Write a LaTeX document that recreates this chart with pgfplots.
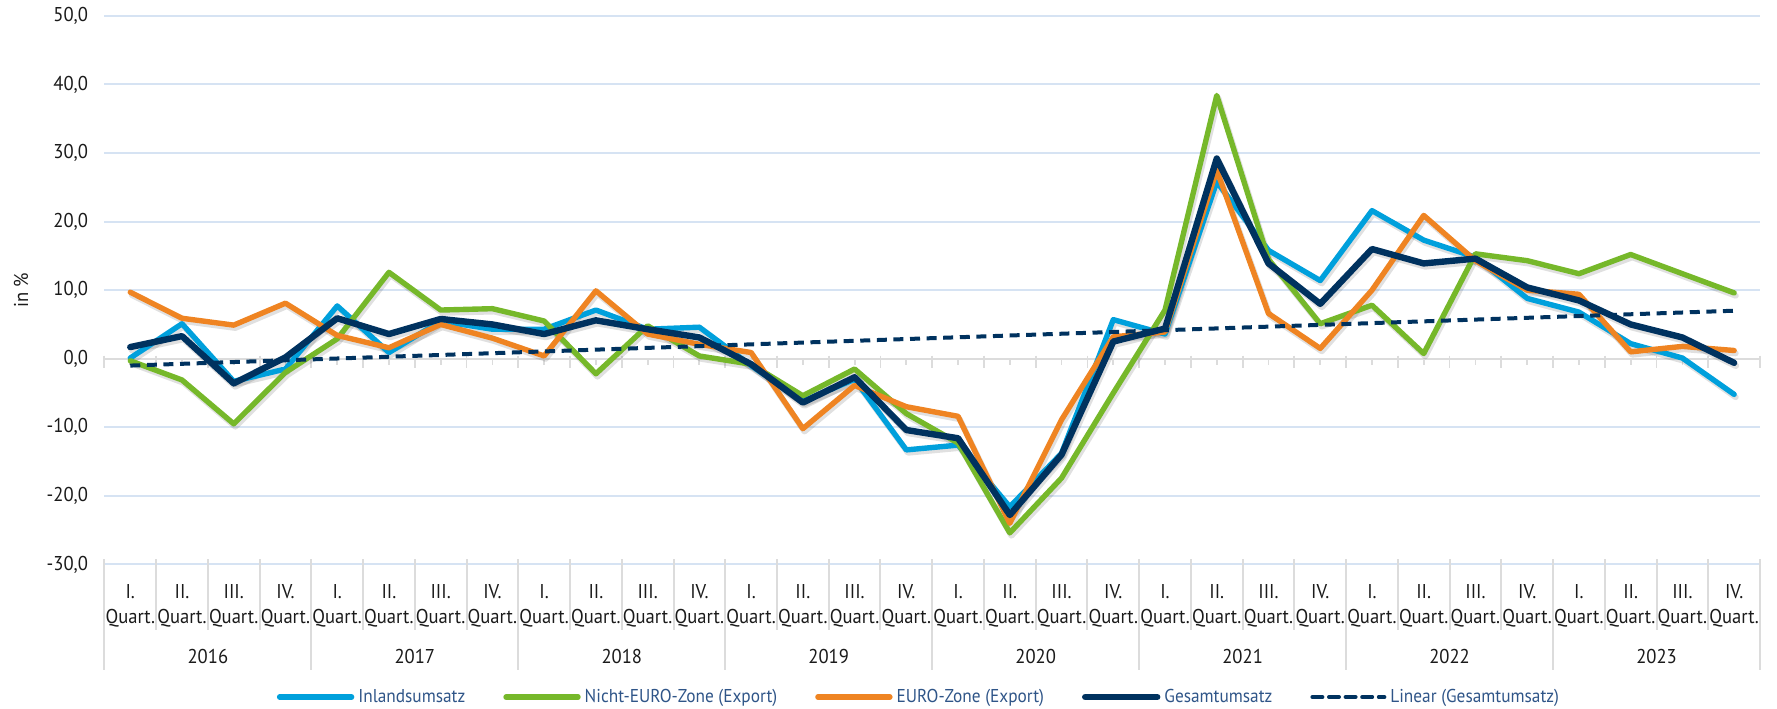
\documentclass[border=0pt]{standalone}
\usepackage{fontspec}
\setmainfont{PT Sans}[FakeStretch=0.93]
\usepackage{pgfplots}
\usepackage{pgfplotstable}
\pgfplotsset{compat=1.18}
\definecolor{inlc}{HTML}{00A0DC}
\definecolor{nichtc}{HTML}{76B82A}
\definecolor{euroc}{HTML}{EF8422}
\definecolor{gesc}{HTML}{00325F}
\definecolor{gridc}{HTML}{D6E3F3}
\definecolor{sepc}{HTML}{DCDCDC}
\definecolor{legc}{HTML}{2F5588}
\definecolor{txtc}{HTML}{1A1A1A}

\pgfplotstableread{
x inl nicht euro ges
0 0.1 -0.3 9.7 1.7
1 5.1 -3.1 5.9 3.3
2 -3.3 -9.5 4.9 -3.6
3 -1.5 -2.0 8.1 0.2
4 7.7 2.9 3.4 5.9
5 0.9 12.6 1.6 3.6
6 5.5 7.1 5.0 5.8
7 4.3 7.3 3.0 5.0
8 4.3 5.5 0.4 3.6
9 7.1 -2.2 9.9 5.6
10 4.3 4.8 3.6 4.3
11 4.6 0.4 2.1 3.1
12 -1.0 -0.8 0.9 -0.8
13 -6.2 -5.4 -10.2 -6.4
14 -3.0 -1.5 -3.9 -2.7
15 -13.3 -8.0 -7.0 -10.4
16 -12.6 -12.3 -8.4 -11.6
17 -21.6 -25.4 -24.0 -22.8
18 -13.8 -17.4 -8.9 -14.0
19 5.7 -5.0 3.2 2.5
20 3.6 7.1 3.9 4.4
21 25.8 38.4 27.5 29.2
22 15.8 14.5 6.6 13.9
23 11.4 5.1 1.5 8.0
24 21.6 7.8 10.0 16.0
25 17.3 0.75 20.9 13.9
26 14.8 15.3 14.3 14.6
27 8.8 14.3 10.0 10.4
28 6.8 12.4 9.4 8.5
29 2.2 15.2 1.0 5.0
30 0.1 12.4 1.8 3.1
31 -5.2 9.6 1.2 -0.6
}\datatable

\begin{document}
\begin{tikzpicture}
\useasboundingbox (-52.2pt,-71.8pt) rectangle (836.3pt,282.2pt);
\begin{axis}[
  at={(0pt,0pt)}, anchor=south west,
  scale only axis, width=827.8pt, height=274.25pt,
  xmin=-0.5, xmax=31.5, ymin=-30, ymax=50,
  clip=false,
  axis line style={draw=none},
  tick style={draw=none},
  ytick={-30,-20,...,50},
  yticklabels={{-30,0},{-20,0},{-10,0},{0,0},{10,0},{20,0},{30,0},{40,0},{50,0}},
  yticklabel style={anchor=east, inner sep=0pt, xshift=-8pt, font=\fontsize{10}{12}\selectfont, text=txtc},
  ymajorgrids,
  grid style={color=gridc, line width=1pt},
  xtick={0,...,31},
  xticklabels={{I.\\Quart.},{II.\\Quart.},{III.\\Quart.},{IV.\\Quart.},
               {I.\\Quart.},{II.\\Quart.},{III.\\Quart.},{IV.\\Quart.},
               {I.\\Quart.},{II.\\Quart.},{III.\\Quart.},{IV.\\Quart.},
               {I.\\Quart.},{II.\\Quart.},{III.\\Quart.},{IV.\\Quart.},
               {I.\\Quart.},{II.\\Quart.},{III.\\Quart.},{IV.\\Quart.},
               {I.\\Quart.},{II.\\Quart.},{III.\\Quart.},{IV.\\Quart.},
               {I.\\Quart.},{II.\\Quart.},{III.\\Quart.},{IV.\\Quart.},
               {I.\\Quart.},{II.\\Quart.},{III.\\Quart.},{IV.\\Quart.}},
  xticklabel style={align=center, anchor=north, inner sep=0pt, yshift=-10pt, font=\fontsize{10}{12.5}\selectfont, text=txtc},
  ylabel={in \%},
  every axis y label/.style={at={(axis description cs:0,0.5)}, xshift=-41.7pt, rotate=90, anchor=center, font=\fontsize{10}{12}\selectfont, text=txtc},
  legend columns=5,
  legend style={at={(axis description cs:0.4926,-0.2418)}, anchor=center, draw=none, fill=none,
    font=\fontsize{9.3}{11}\selectfont, text=legc,
    /tikz/every even column/.append style={column sep=17pt},
    nodes={inner xsep=2pt}},
  legend cell align=left,
  legend image code/.code={\draw[#1, line cap=round] (0pt,0pt) -- (36pt,0pt);},
]
% separators below the axis
\pgfplotsinvokeforeach{-0.5,0.5,...,31.5}{
  \draw[sepc, line width=1pt] (axis cs:#1,-30) ++(0pt,2.5pt) -- ++(0pt,-35.3pt);
}
\pgfplotsinvokeforeach{-0.5,3.5,...,31.5}{
  \draw[sepc, line width=1pt] (axis cs:#1,-30) ++(0pt,2.5pt) -- ++(0pt,-55.3pt);
}
% zero line with ticks
\draw[sepc, line width=1.2pt] (axis cs:-0.5,0) -- (axis cs:31.5,0);
\pgfplotsinvokeforeach{-0.5,0.5,...,31.5}{
  \draw[sepc, line width=0.9pt] (axis cs:#1,0) ++(0pt,1.5pt) -- ++(0pt,-6pt);
}
\pgfplotsinvokeforeach{0,...,31}{
  \draw[sepc, line width=0.9pt] (axis cs:#1,0) -- ++(0pt,-3pt);
}
% years
\node[font=\fontsize{10}{12}\selectfont, text=txtc] at (axis cs:1.5,-30) [yshift=-45.8pt] {2016};
\node[font=\fontsize{10}{12}\selectfont, text=txtc] at (axis cs:5.5,-30) [yshift=-45.8pt] {2017};
\node[font=\fontsize{10}{12}\selectfont, text=txtc] at (axis cs:9.5,-30) [yshift=-45.8pt] {2018};
\node[font=\fontsize{10}{12}\selectfont, text=txtc] at (axis cs:13.5,-30) [yshift=-45.8pt] {2019};
\node[font=\fontsize{10}{12}\selectfont, text=txtc] at (axis cs:17.5,-30) [yshift=-45.8pt] {2020};
\node[font=\fontsize{10}{12}\selectfont, text=txtc] at (axis cs:21.5,-30) [yshift=-45.8pt] {2021};
\node[font=\fontsize{10}{12}\selectfont, text=txtc] at (axis cs:25.5,-30) [yshift=-45.8pt] {2022};
\node[font=\fontsize{10}{12}\selectfont, text=txtc] at (axis cs:29.5,-30) [yshift=-45.8pt] {2023};

% soft shadows
\addplot[forget plot, black, opacity=0.12, line width=3pt, line cap=round, line join=round, transform canvas={xshift=0.8pt,yshift=-1.4pt}] table[x=x,y=inl]{\datatable};
\addplot[forget plot, black, opacity=0.12, line width=3pt, line cap=round, line join=round, transform canvas={xshift=0.8pt,yshift=-1.4pt}] table[x=x,y=nicht]{\datatable};
\addplot[forget plot, black, opacity=0.12, line width=3pt, line cap=round, line join=round, transform canvas={xshift=0.8pt,yshift=-1.4pt}] table[x=x,y=euro]{\datatable};
\addplot[forget plot, black, opacity=0.12, line width=3.4pt, line cap=round, line join=round, transform canvas={xshift=0.8pt,yshift=-1.4pt}] table[x=x,y=ges]{\datatable};

\addplot[inlc, line width=2.7pt, line cap=round, line join=round] table[x=x,y=inl]{\datatable};
\addlegendentry{Inlandsumsatz}
\addplot[nichtc, line width=2.7pt, line cap=round, line join=round] table[x=x,y=nicht]{\datatable};
\addlegendentry{Nicht-EURO-Zone (Export)}
\addplot[euroc, line width=2.7pt, line cap=round, line join=round] table[x=x,y=euro]{\datatable};
\addlegendentry{EURO-Zone (Export)}
\addplot[gesc, line width=3.2pt, line cap=round, line join=round] table[x=x,y=ges]{\datatable};
\addlegendentry{Gesamtumsatz}
\addplot[gesc, line width=2pt, dash pattern=on 5pt off 3.3pt] coordinates {(0,-1.0) (31,7.0)};
\addlegendentry{Linear (Gesamtumsatz)}
\end{axis}
\end{tikzpicture}
\end{document}
